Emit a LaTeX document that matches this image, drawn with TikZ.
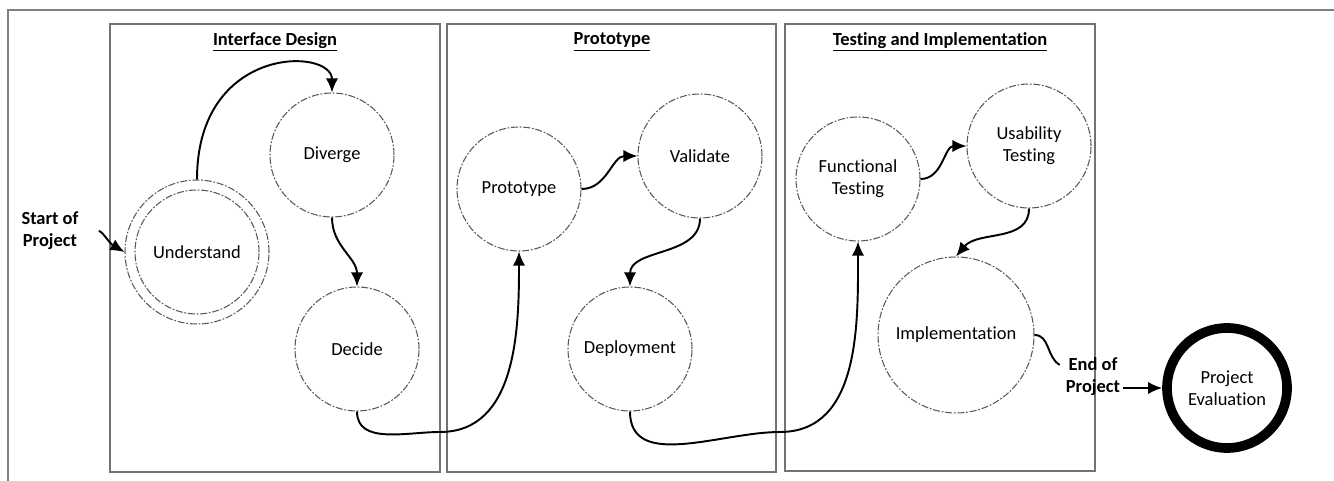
\documentclass[tikz,border=0pt]{standalone}
\usepackage{fontspec}
\setmainfont[Ligatures={NoCommon}]{Carlito}
\usetikzlibrary{arrows.meta}

\begin{document}
\begin{tikzpicture}[font=\fontsize{10.5}{12.5}\selectfont,
    stage/.style={circle,draw=black!65,line width=.6pt,
        dash pattern=on 4pt off 1pt on 1pt off 1pt,
        minimum size=2.48cm,inner sep=0pt,align=center},
    panel/.style={draw=black!55,line width=1pt},
    title/.style={font=\fontsize{10.5}{12.5}\selectfont\bfseries},
    arr/.style={-{Latex[length=8pt,width=7pt]},line width=1.1pt}]

    \useasboundingbox (0,0) rectangle (26.68,9.62);

    % the frames
    \draw[draw=black!50,line width=1pt] (0.16,0) -- (0.16,9.42) -- (26.68,9.42);
    \draw[panel] (2.2,0.18) rectangle (8.8,9.14);
    \draw[panel] (8.94,0.18) rectangle (15.52,9.14);
    \draw[panel] (15.7,0.2) rectangle (21.9,9.14);

    \node[title] (tdesign) at (5.5,8.78) {\underline{Interface Design}};
    \node[title] (tproto) at (12.24,8.78) {\underline{Prototype}};
    \node[title] (ttest) at (18.8,8.78) {\underline{Testing and Implementation}};

    % the stages
    \node[stage,minimum size=2.88cm] (und) at (3.94,4.58) {Understand};
    \node[stage] (undin) at (und) {};
    \node[stage] (div) at (6.64,6.52) {Diverge};
    \node[stage] (dec) at (7.14,2.64) {Decide};
    \node[stage] (proto) at (10.38,5.84) {Prototype};
    \node[stage] (val) at (14.0,6.5) {Validate};
    \node[stage] (dep) at (12.6,2.64) {Deployment};
    \node[stage] (func) at (17.16,6.04) {Functional\\Testing};
    \node[stage] (usab) at (20.58,6.7) {Usability\\Testing};
    \node[stage,minimum size=3.12cm] (impl) at (19.12,2.92) {Implementation};
    \node[circle,draw,line width=5.5pt,minimum size=2.4cm,inner sep=0pt,
        align=center] (eval) at (24.54,1.86) {Project\\Evaluation};

    \node[title,align=center] (start) at (1.0,5.0) {Start of\\Project};
    \node[title,align=center] (end) at (21.86,2.08) {End of\\Project};

    \coordinate (m1) at (8.8,0.98);
    \coordinate (m2) at (15.6,0.98);

    % the arrows
    \draw[arr,shorten <=8pt] (start.east) to[out=0,in=150] (und.west);
    \draw[arr] (und.north) .. controls +(0,2.7) and +(0,0.9) .. (div.north);
    \draw[arr] (div.south) to[out=-90,in=90] (dec.north);
    \draw[arr] (dec.south) to[out=-90,in=180] (m1) to[out=0,in=-90]
    (proto.south);
    \draw[arr] (proto.east) to[out=0,in=180] (val.west);
    \draw[arr] (val.south) to[out=-90,in=90] (dep.north);
    \draw[arr] (dep.south) to[out=-90,in=180] (m2) to[out=0,in=-90]
    (func.south);
    \draw[arr] (func.east) to[out=0,in=180] (usab.west);
    \draw[arr] (usab.south) to[out=-90,in=50] (impl.north);
    \draw[line width=1.1pt] (impl.east) to[out=0,in=150] (end.160);
    \draw[arr,shorten <=-2pt] (end.east |- eval.west) -- (eval.west);
  \end{tikzpicture}
\end{document}
